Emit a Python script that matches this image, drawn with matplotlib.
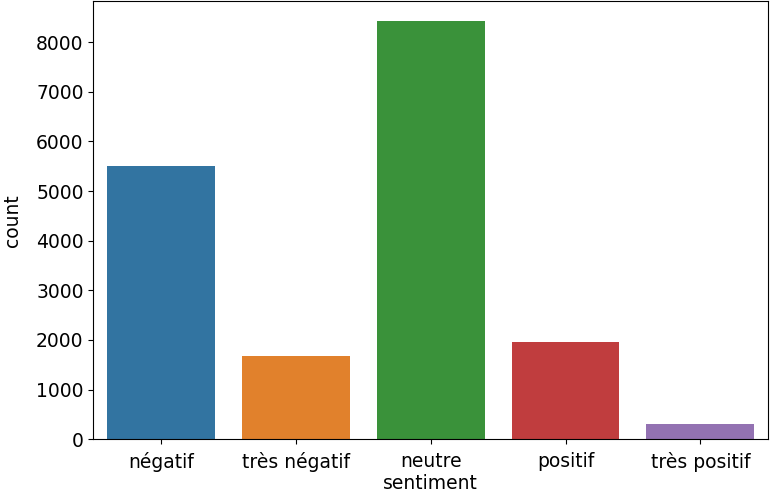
import matplotlib
matplotlib.use('Agg')
import matplotlib.pyplot as plt
import seaborn as sns
import pandas as pd

# counts per sentiment class
sentiments = ['négatif', 'très négatif', 'neutre', 'positif', 'très positif']
counts = [5500, 1680, 8420, 1965, 300]

df = pd.DataFrame({'sentiment': sentiments, 'count': counts})

plt.rcParams['font.size'] = 13.5
fig = plt.figure(figsize=(7.71, 4.99), dpi=100)
ax = fig.add_axes([0.121, 0.12, 0.875, 0.877])

sns.barplot(data=df, x='sentiment', y='count', hue='sentiment',
            palette=sns.color_palette(n_colors=5), saturation=0.75,
            legend=False, ax=ax)

ax.tick_params(axis='x', pad=6)
ax.set_xlabel('sentiment', labelpad=1)
ax.set_ylabel('count', labelpad=10)
ax.set_ylim(0, 8820)
ax.set_yticks(range(0, 9000, 1000))

fig.savefig('out.png', dpi=100)
